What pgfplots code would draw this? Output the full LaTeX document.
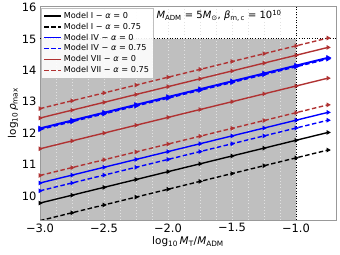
\documentclass[border=0pt]{standalone}
\usepackage{fontspec}
\setmainfont{DejaVu Sans}
\usepackage{pgfplots}
\pgfplotsset{compat=1.18}
\definecolor{myred}{HTML}{B03232}
\definecolor{shade}{HTML}{BFBFBF}
\begin{document}
\begin{tikzpicture}
\begin{axis}[
  set layers,
  scale only axis,
  width=296bp, height=214bp,
  at={(0,0)}, anchor=south west,
  xmin=-3, xmax=-0.6875, ymin=9.23, ymax=16.05,
  xtick={-3,-2.5,-2,-1.5,-1},
  xticklabels={−3.0,−2.5,−2.0,−1.5,−1.0},
  ytick={10,11,12,13,14,15,16},
  yticklabels={10,11,12,13,14,15,16},
  /pgf/number format/assume math mode=true,
  minor xtick={-2.875,-2.75,-2.625,-2.375,-2.25,-2.125,-1.875,-1.75,-1.625,-1.375,-1.25,-1.125},
  xminorgrids=true, xmajorgrids=true,
  minor grid style={white!55!shade, line width=0.4pt, dash pattern=on 0.7pt off 2.5pt},
  major grid style={white!55!shade, line width=0.4pt, dash pattern=on 0.7pt off 2.5pt},
  major tick length=0pt, minor tick length=0pt,
  axis line style={draw=black!40},
  ticklabel style={font=\fontsize{11.5}{12}\selectfont},
  xlabel={log\textsubscript{10}\,\textit{M}\textsubscript{T}/\textit{M}\textsubscript{ADM}},
  ylabel={log\textsubscript{10}\,\textit{ρ}\textsubscript{max}},
  label style={font=\fontsize{10.5}{11}\selectfont},
  xlabel style={yshift=2bp},
  ylabel style={yshift=-3bp},
  legend style={at={(0.005,0.99)}, anchor=north west, font=\fontsize{8.2}{9.5}\selectfont,
    draw=black!25, fill=white, fill opacity=0.9, text opacity=1,
    row sep=-0.8pt, inner sep=1.8pt},
  legend cell align=left,
  legend image code/.code={\draw[#1] (0bp,0bp) -- (17bp,0bp);},
  every axis plot/.append style={line width=1.4pt, mark=triangle*, mark size=1.4pt, mark options={solid, rotate=-90}},
  dashpat/.style={dash pattern=on 4.5bp off 2.5bp},
]
\addplot[fill=shade, draw=none, mark=none, on layer=axis background, forget plot] coordinates {(-3,9.23) (-1,9.23) (-1,15) (-3,15) (-3,9.23)};
\addplot[black, line width=1pt, dash pattern=on 1pt off 1.6pt, mark=none, forget plot] coordinates {(-1,9.23) (-1,16.05)};
\addplot[black, line width=1pt, dash pattern=on 1pt off 1.6pt, mark=none, forget plot] coordinates {(-3,15) (-0.6875,15)};

\addplot[black] coordinates {(-3,9.77) (-2.75,10.02) (-2.5,10.27) (-2.25,10.52) (-2,10.77) (-1.75,11.02) (-1.5,11.27) (-1.25,11.52) (-1,11.77) (-0.75,12.02)};
\addlegendentry{Model I − \textit{α} = 0}
\addplot[black, dashpat] coordinates {(-3,9.21) (-2.75,9.46) (-2.5,9.71) (-2.25,9.96) (-2,10.21) (-1.75,10.46) (-1.5,10.71) (-1.25,10.96) (-1,11.21) (-0.75,11.46)};
\addlegendentry{Model I − \textit{α} = 0.75}
\addplot[blue] coordinates {(-3,10.41) (-2.75,10.66) (-2.5,10.91) (-2.25,11.16) (-2,11.41) (-1.75,11.66) (-1.5,11.91) (-1.25,12.16) (-1,12.41) (-0.75,12.66)};
\addlegendentry{Model IV − \textit{α} = 0}
\addplot[blue, dashpat] coordinates {(-3,10.16) (-2.75,10.41) (-2.5,10.66) (-2.25,10.91) (-2,11.16) (-1.75,11.41) (-1.5,11.66) (-1.25,11.91) (-1,12.16) (-0.75,12.41)};
\addlegendentry{Model IV − \textit{α} = 0.75}
\addplot[myred] coordinates {(-3,11.50) (-2.75,11.75) (-2.5,12.00) (-2.25,12.25) (-2,12.50) (-1.75,12.75) (-1.5,13.00) (-1.25,13.25) (-1,13.50) (-0.75,13.75)};
\addlegendentry{Model VII − \textit{α} = 0}
\addplot[myred, dashpat] coordinates {(-3,10.65) (-2.75,10.90) (-2.5,11.15) (-2.25,11.40) (-2,11.65) (-1.75,11.90) (-1.5,12.15) (-1.25,12.40) (-1,12.65) (-0.75,12.90)};
\addlegendentry{Model VII − \textit{α} = 0.75}

\addplot[blue, forget plot, line width=1.9pt] coordinates {(-3,12.15) (-2.75,12.40) (-2.5,12.65) (-2.25,12.90) (-2,13.15) (-1.75,13.40) (-1.5,13.65) (-1.25,13.90) (-1,14.15) (-0.75,14.40)};
\addplot[blue, dashpat, forget plot, line width=1.9pt] coordinates {(-3,12.12) (-2.75,12.37) (-2.5,12.62) (-2.25,12.87) (-2,13.12) (-1.75,13.37) (-1.5,13.62) (-1.25,13.87) (-1,14.12) (-0.75,14.37)};
\addplot[myred, forget plot] coordinates {(-3,12.48) (-2.75,12.73) (-2.5,12.98) (-2.25,13.23) (-2,13.48) (-1.75,13.73) (-1.5,13.98) (-1.25,14.23) (-1,14.48) (-0.75,14.73)};
\addplot[myred, dashpat, forget plot] coordinates {(-3,12.78) (-2.75,13.03) (-2.5,13.28) (-2.25,13.53) (-2,13.78) (-1.75,14.03) (-1.5,14.28) (-1.25,14.53) (-1,14.78) (-0.75,15.03)};

\node[font=\fontsize{10}{11}\selectfont, anchor=center] at (rel axis cs:0.605,0.955)
  {\textit{M}\textsubscript{ADM} = 5\textit{M}\textsubscript{⊙}, \textit{β}\textsubscript{m,\,c} = 10\textsuperscript{10}};
\end{axis}
\pgfresetboundingbox
\path (-40bp,-35bp) rectangle (300bp,220bp);
\end{tikzpicture}
\end{document}
